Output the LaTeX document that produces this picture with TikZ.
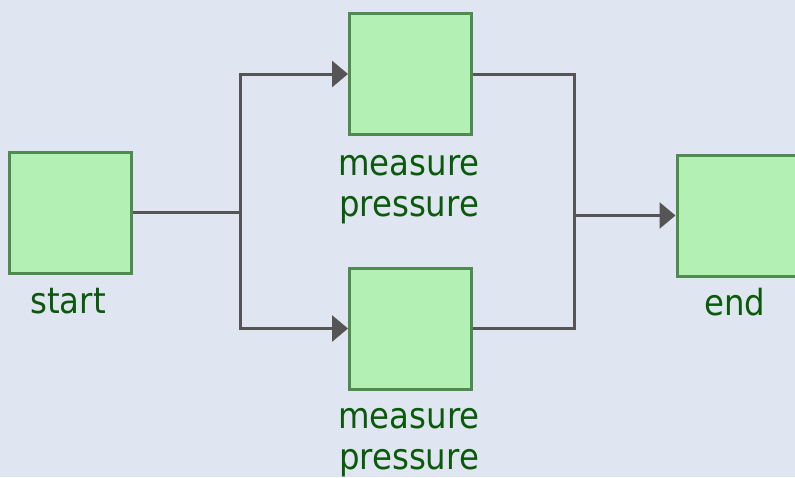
\documentclass[tikz,border=0pt]{standalone}
\usepackage{fontspec}
\setmainfont{DejaVu Sans Condensed}
\usetikzlibrary{arrows.meta}
\definecolor{bg}{HTML}{DFE6F1}
\definecolor{boxfill}{HTML}{B3F0B3}
\definecolor{boxdraw}{HTML}{4F8B4F}
\definecolor{txt}{HTML}{0B5A0B}
\definecolor{wire}{HTML}{555555}
\tikzset{
  task/.style={draw=boxdraw, fill=boxfill, line width=3pt, minimum width=122pt, minimum height=121pt, inner sep=0pt},
  lbl/.style={text=txt, font=\fontsize{36}{41}\selectfont, align=center, anchor=base, inner sep=0pt},
  conn/.style={draw=wire, line width=3pt},
  arr/.style={conn, -{Triangle[length=16pt, width=26pt]}}
}
\begin{document}
\begin{tikzpicture}[x=1pt, y=-1pt]
\fill[bg] (0,0) rectangle (795,477);
\useasboundingbox (0,0) rectangle (795,477);
\node[task] (start) at (70.5,212.5) {};
\node[task] (m1) at (410.5,74) {};
\node[task] (m2) at (410.5,328.5) {};
\node[task] (end) at (738,215.5) {};
\node[lbl] (ls) at (68,313) {start};
\node[lbl] (l1) at (409,216) {measure\\pressure};
\node[lbl] (l2) at (409,469) {measure\\pressure};
\node[lbl] (le) at (735,315) {end};
\coordinate (fork) at (240,212.5);
\coordinate (join) at (574,215.5);
\draw[conn] (start.east) -- (fork);
\draw[arr] (fork) |- (m1.west);
\draw[arr] (fork) |- (m2.west);
\draw[conn] (m1.east) -| (join);
\draw[conn] (m2.east) -| (join);
\draw[arr] (join) -- (end.west);
\end{tikzpicture}
\end{document}
